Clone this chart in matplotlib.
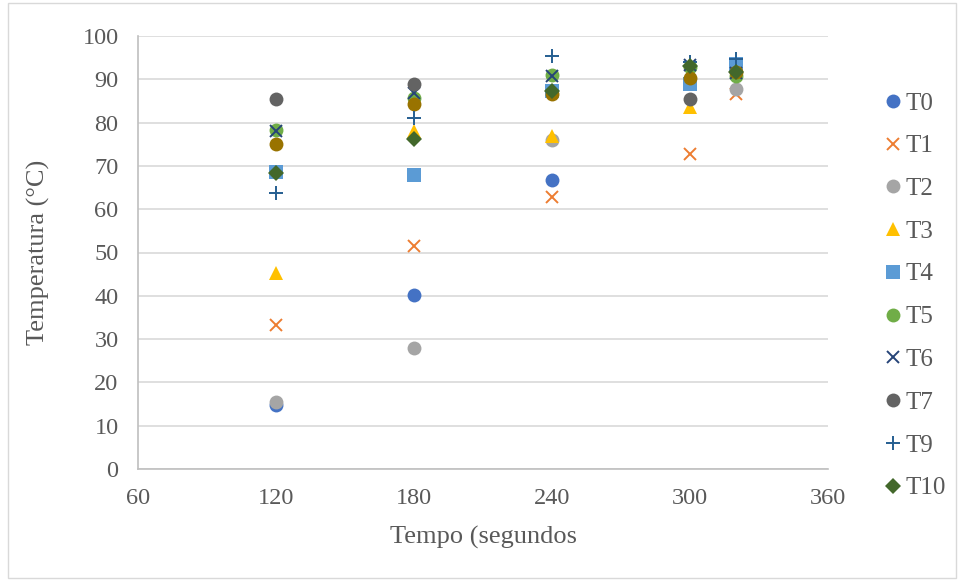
import matplotlib
matplotlib.use("Agg")
import matplotlib.pyplot as plt
from matplotlib.patches import Rectangle

plt.rcParams['font.family'] = ['Liberation Serif', 'DejaVu Serif']

# Data (time in seconds, temperature in °C)
t0_x = [120, 180, 240]
t0_y = [14.7, 40.1, 66.8]
t1_x = [120, 180, 240, 300, 320]
t1_y = [33.2, 51.6, 62.9, 72.8, 86.6]
t2_x = [120, 180, 240, 320]
t2_y = [15.4, 27.9, 76.0, 87.8]
t3_x = [120, 180, 240, 300]
t3_y = [45.2, 78.1, 77.0, 83.6]
t4_x = [120, 180, 240, 300, 320]
t4_y = [68.7, 68.0, 87.3, 88.9, 93.5]
t5_x = [120, 180, 240, 300, 320]
t5_y = [78.3, 85.7, 91.0, 92.8, 90.8]
t6_x = [120, 180, 240, 300, 320]
t6_y = [78.1, 86.9, 90.8, 93.4, 91.5]
t7_x = [120, 180, 300]
t7_y = [85.5, 88.9, 85.5]
t8_x = [120, 180, 240, 300, 320]
t8_y = [75.1, 84.3, 86.6, 90.3, 91.7]
t9_x = [120, 180, 240, 300, 320]
t9_y = [63.8, 81.1, 95.4, 94.0, 94.7]
t10_x = [120, 180, 240, 300, 320]
t10_y = [68.4, 76.3, 87.3, 93.1, 91.7]

x_ticks = [60, 120, 180, 240, 300, 360]
y_ticks = [0, 10, 20, 30, 40, 50, 60, 70, 80, 90, 100]

fig = plt.figure(figsize=(9.64, 5.81), dpi=100)
ax = fig.add_axes([138/964, 1-469/581, (828-138)/964, (469-36)/581])

txt = '#595959'
series = [
    (t0_x, t0_y, 'o', '#4472C4', 10, 'T0'),
    (t1_x, t1_y, 'x', '#ED7D31', 9, 'T1'),
    (t2_x, t2_y, 'o', '#A5A5A5', 10, 'T2'),
    (t3_x, t3_y, '^', '#FFC000', 10, 'T3'),
    (t4_x, t4_y, 's', '#5B9BD5', 9.5, 'T4'),
    (t5_x, t5_y, 'o', '#70AD47', 10, 'T5'),
    (t6_x, t6_y, 'x', '#264478', 9, 'T6'),
    (t7_x, t7_y, 'o', '#636363', 10, 'T7'),
    (t8_x, t8_y, 'o', '#997300', 10, '_nolegend_'),
    (t9_x, t9_y, '+', '#255E91', 10, 'T9'),
    (t10_x, t10_y, 'D', '#43682B', 8, 'T10'),
]
for xs, ys, m, c, ms, lab in series:
    if m in ('x', '+'):
        ax.plot(xs, ys, linestyle='none', marker=m, color=c, markersize=ms,
                markeredgewidth=1.4, label=lab, zorder=3)
    else:
        ax.plot(xs, ys, linestyle='none', marker=m, color=c, markersize=ms,
                markeredgewidth=0, label=lab, zorder=3)

ax.set_xlim(60, 360)
ax.set_ylim(0, 100)
ax.set_xticks(x_ticks)
ax.set_yticks(y_ticks)
ax.yaxis.grid(True, color='#D9D9D9', linewidth=1.2)
ax.set_axisbelow(True)
for s in ['top', 'right']:
    ax.spines[s].set_visible(False)
for s in ['left', 'bottom']:
    ax.spines[s].set_color('#BFBFBF')
    ax.spines[s].set_linewidth(1.2)
ax.tick_params(axis='both', length=0, labelsize=17.5, colors=txt)
ax.tick_params(axis='x', pad=14)
ax.tick_params(axis='y', pad=14)

ax.set_xlabel('Tempo (segundos', fontsize=19, color=txt, labelpad=12)
ax.set_ylabel('Temperatura (°C)', fontsize=19, color=txt, labelpad=23)

leg = ax.legend(loc='upper left', bbox_to_anchor=(883/964, 1-92/581),
                bbox_transform=fig.transFigure, frameon=False, fontsize=18,
                labelspacing=0.81, handletextpad=0.1, handlelength=0.8,
                borderaxespad=0, borderpad=0)
for t in leg.get_texts():
    t.set_color(txt)

fig.patches.append(Rectangle((8/964, 3/581), 1-16/964, 1-6/581,
                             transform=fig.transFigure, fill=False,
                             edgecolor='#D9D9D9', linewidth=1))

fig.savefig('out.png', dpi=100, facecolor='white')
